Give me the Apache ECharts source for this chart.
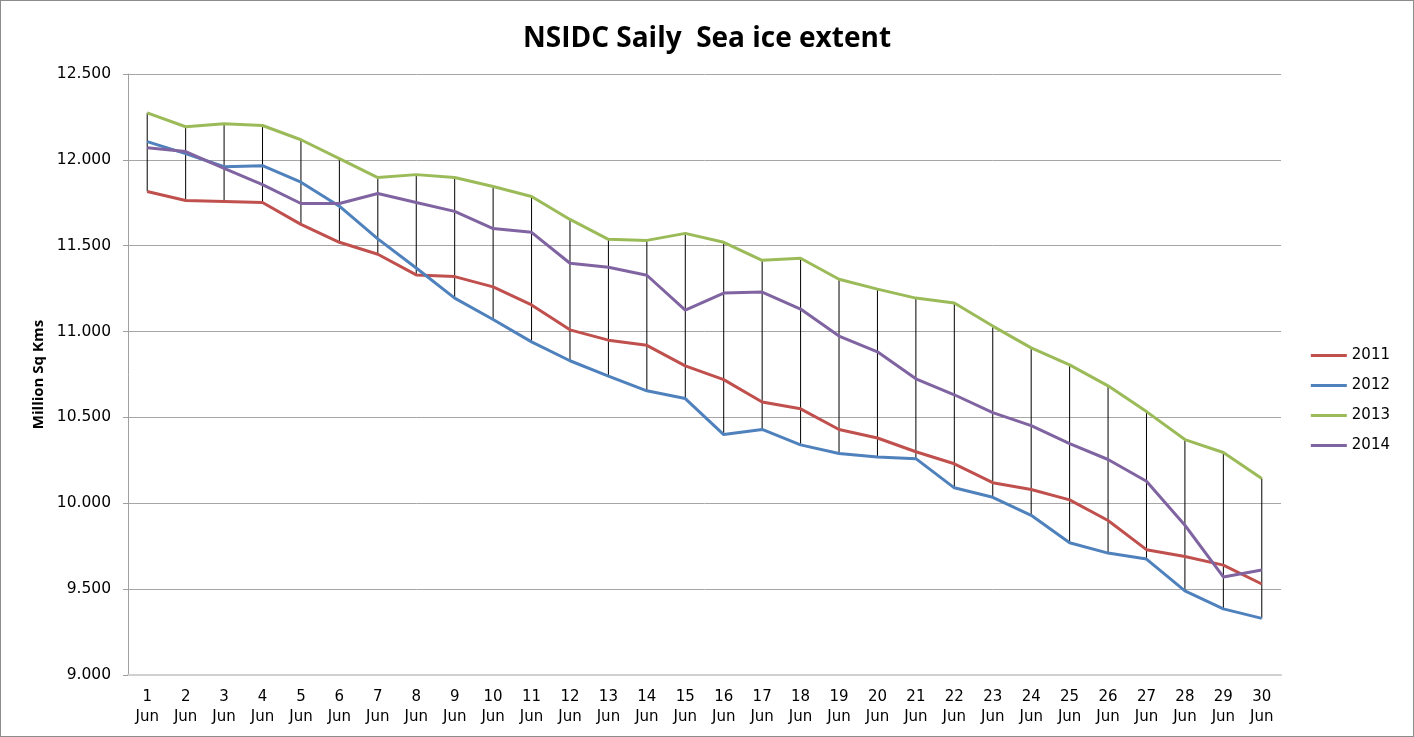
<!DOCTYPE html>
<html>
<head>
<meta charset="utf-8">
<script src="https://cdn.jsdelivr.net/npm/echarts@6/dist/echarts.min.js"></script>
<style>
  html, body { margin: 0; padding: 0; background: #fff; }
  #chart { width: 1414px; height: 737px; box-sizing: border-box; border: 1px solid #8c8c8c; }
</style>
</head>
<body>
<div id="chart"></div>
<script>
  const days = ['1\nJun', '2\nJun', '3\nJun', '4\nJun', '5\nJun', '6\nJun', '7\nJun', '8\nJun', '9\nJun', '10\nJun',
    '11\nJun', '12\nJun', '13\nJun', '14\nJun', '15\nJun', '16\nJun', '17\nJun', '18\nJun', '19\nJun', '20\nJun',
    '21\nJun', '22\nJun', '23\nJun', '24\nJun', '25\nJun', '26\nJun', '27\nJun', '28\nJun', '29\nJun', '30\nJun']

  const ice2011 = [11.816, 11.763, 11.758, 11.752, 11.624, 11.52, 11.45, 11.33, 11.32, 11.26,
    11.155, 11.01, 10.95, 10.92, 10.80, 10.72, 10.59, 10.55, 10.43, 10.38,
    10.30, 10.23, 10.12, 10.08, 10.02, 9.90, 9.73, 9.69, 9.64, 9.53]
  const ice2012 = [12.106, 12.036, 11.96, 11.966, 11.87, 11.73, 11.54, 11.37, 11.195, 11.07,
    10.94, 10.83, 10.74, 10.655, 10.61, 10.40, 10.43, 10.34, 10.29, 10.27,
    10.26, 10.09, 10.035, 9.93, 9.77, 9.71, 9.675, 9.49, 9.385, 9.33]
  const ice2013 = [12.274, 12.193, 12.21, 12.2, 12.117, 12.007, 11.897, 11.914, 11.897, 11.845,
    11.787, 11.653, 11.537, 11.531, 11.572, 11.52, 11.415, 11.427, 11.305, 11.247,
    11.195, 11.166, 11.032, 10.905, 10.806, 10.684, 10.534, 10.371, 10.296, 10.145]
  const ice2014 = [12.071, 12.048, 11.95, 11.856, 11.746, 11.746, 11.804, 11.752, 11.70, 11.60,
    11.578, 11.398, 11.375, 11.328, 11.125, 11.224, 11.23, 11.131, 10.974, 10.882,
    10.725, 10.632, 10.528, 10.452, 10.348, 10.255, 10.128, 9.872, 9.571, 9.611]

  const years = ['2011', '2012', '2013', '2014']
  const colors = ['#C0504D', '#4F81BD', '#9BBB59', '#8064A2']
  const allSeries = [ice2011, ice2012, ice2013, ice2014]

  // high-low drop lines across the four years
  const hiLo = days.map((d, i) => {
    const vals = allSeries.map(s => s[i])
    return [i, Math.max(...vals), Math.min(...vals)]
  })

  let mychart = echarts.init(document.getElementById('chart'))
  let option = {
    animation: false,
    title: {
      text: 'NSIDC Saily  Sea ice extent',
      left: 'center',
      top: 19,
      textStyle: { fontFamily: 'Open Sans', fontWeight: 'bold', fontSize: 28, color: '#000' }
    },
    legend: {
      orient: 'vertical',
      right: 18,
      top: 342,
      icon: 'rect',
      itemWidth: 36,
      itemHeight: 3,
      itemGap: 15,
      data: years,
      textStyle: { fontFamily: 'DejaVu Sans', fontSize: 15, color: '#000' }
    },
    grid: { left: 127, right: 132, top: 73, bottom: 61 },
    xAxis: {
      type: 'category',
      data: days,
      boundaryGap: true,
      axisLine: { lineStyle: { color: '#d0d0d0', width: 2 } },
      axisTick: { show: false },
      axisLabel: { interval: 0, fontFamily: 'DejaVu Sans', fontSize: 15, color: '#000', lineHeight: 20, margin: 12 }
    },
    yAxis: {
      type: 'value',
      min: 9,
      max: 12.5,
      interval: 0.5,
      name: 'Million Sq Kms',
      nameLocation: 'middle',
      nameGap: 77,
      nameTextStyle: { fontFamily: 'Open Sans', fontWeight: 'bold', fontSize: 15, color: '#000' },
      axisLine: { show: true, lineStyle: { color: '#a0a0a0' } },
      axisTick: { show: true, length: 5, lineStyle: { color: '#a0a0a0' } },
      axisLabel: { formatter: v => v.toFixed(3), fontFamily: 'DejaVu Sans', fontSize: 15.5, color: '#000', margin: 17 },
      splitLine: { lineStyle: { color: '#a6a6a6' } }
    },
    series: [
      {
        type: 'custom',
        name: 'hilo',
        z: 1,
        silent: true,
        data: hiLo,
        renderItem: function (params, api) {
          const p1 = api.coord([api.value(0), api.value(1)])
          const p2 = api.coord([api.value(0), api.value(2)])
          return {
            type: 'line',
            shape: { x1: p1[0], y1: p1[1], x2: p2[0], y2: p2[1] },
            style: { stroke: '#000', lineWidth: 1 }
          }
        }
      }
    ].concat(years.map((y, k) => ({
      name: y,
      type: 'line',
      z: 3,
      data: allSeries[k],
      symbol: 'none',
      itemStyle: { color: colors[k] },
      lineStyle: { color: colors[k], width: 3 }
    })))
  }
  mychart.setOption(option)
</script>
</body>
</html>
